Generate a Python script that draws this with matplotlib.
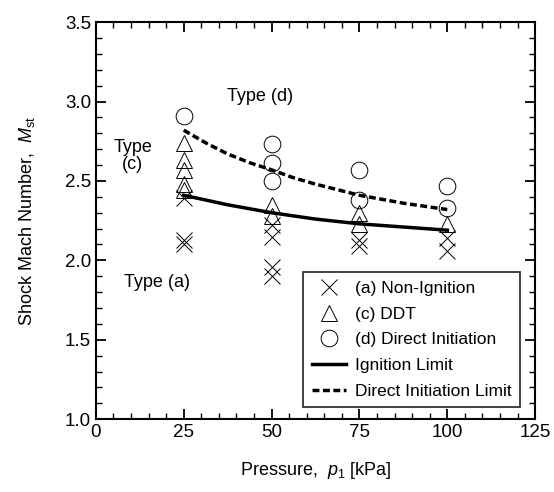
import matplotlib
matplotlib.use("Agg")
import matplotlib.pyplot as plt
from matplotlib.ticker import MultipleLocator
from matplotlib.lines import Line2D

plt.rcParams['font.family'] = ['Liberation Sans', 'DejaVu Sans']
plt.rcParams['mathtext.fontset'] = 'custom'
plt.rcParams['mathtext.it'] = 'Liberation Sans:italic'
plt.rcParams['mathtext.rm'] = 'Liberation Sans'

# Data
nonign_p = [25, 25, 25, 50, 50, 50, 50, 75, 75, 100, 100]
nonign_m = [2.10, 2.13, 2.39, 2.22, 2.15, 1.96, 1.90, 2.13, 2.09, 2.14, 2.06]
ddt_p = [25, 25, 25, 25, 25, 50, 50, 75, 75, 100]
ddt_m = [2.44, 2.48, 2.57, 2.63, 2.74, 2.35, 2.28, 2.30, 2.23, 2.23]
di_p = [25, 50, 50, 50, 75, 75, 100, 100]
di_m = [2.91, 2.73, 2.61, 2.50, 2.57, 2.38, 2.47, 2.33]

lim_p = [25, 31.25, 37.5, 43.75, 50, 56.25, 62.5, 68.75, 75, 81.25, 87.5, 93.75, 100]
ign_lim = [2.41, 2.38, 2.35, 2.325, 2.30, 2.28, 2.26, 2.245, 2.23, 2.22, 2.21, 2.20, 2.19]
di_lim = [2.82, 2.74, 2.67, 2.615, 2.57, 2.52, 2.48, 2.445, 2.41, 2.385, 2.36, 2.34, 2.32]

fig = plt.figure(figsize=(5.54, 4.92), dpi=100)
ax = fig.add_axes([0.173, 0.148, 0.793, 0.807])

ax.plot(nonign_p, nonign_m, linestyle='none', marker='x', markersize=11,
        markeredgewidth=0.7, color='black')
ax.plot(ddt_p, ddt_m, linestyle='none', marker='^', markersize=12,
        markeredgewidth=0.7, markerfacecolor='none', color='black')
ax.plot(di_p, di_m, linestyle='none', marker='o', markersize=12,
        markeredgewidth=0.7, markerfacecolor='none', color='black')
ax.plot(lim_p, ign_lim, color='black', linewidth=2.5)
ax.plot(lim_p, di_lim, color='black', linewidth=2.5, linestyle=(0, (2, 1)))

ax.set_xlim(0, 125)
ax.set_ylim(1.0, 3.5)
ax.xaxis.set_major_locator(MultipleLocator(25))
ax.xaxis.set_minor_locator(MultipleLocator(5))
ax.yaxis.set_major_locator(MultipleLocator(0.5))
ax.yaxis.set_minor_locator(MultipleLocator(0.1))
ax.yaxis.set_major_formatter(matplotlib.ticker.FormatStrFormatter('%.1f'))
ax.tick_params(which='both', direction='in', top=True, right=True, labelsize=13.5)
ax.tick_params(which='major', length=7, width=1.3)
ax.tick_params(which='minor', length=4, width=1.0)
for s in ax.spines.values():
    s.set_linewidth(1.5)

ax.set_xlabel(r'Pressure,  $p_1$ [kPa]', fontsize=13, labelpad=14)
ax.set_ylabel(r'Shock Mach Number,  $M_{\rm st}$', fontsize=13, labelpad=20)

ax.text(46.7, 3.03, 'Type (d)', fontsize=13, ha='center', va='center')
ax.text(10.5, 2.66, 'Type\n(c)', fontsize=13, ha='center', va='center', linespacing=1.0)
ax.text(17.5, 1.86, 'Type (a)', fontsize=13, ha='center', va='center')

handles = [
    Line2D([], [], linestyle='none', marker='x', markersize=11, markeredgewidth=0.7, color='black'),
    Line2D([], [], linestyle='none', marker='^', markersize=12, markeredgewidth=0.7, markerfacecolor='none', color='black'),
    Line2D([], [], linestyle='none', marker='o', markersize=12, markeredgewidth=0.7, markerfacecolor='none', color='black'),
    Line2D([], [], color='black', linewidth=2.5),
    Line2D([], [], color='black', linewidth=2.5, linestyle=(0, (2, 1))),
]
labels = ['(a) Non-Ignition', '(c) DDT', '(d) Direct Initiation', 'Ignition Limit', 'Direct Initiation Limit']
leg = ax.legend(handles, labels, loc='lower right', bbox_to_anchor=(0.966, 0.03),
                borderaxespad=0, fontsize=12.5, frameon=True,
                fancybox=False, edgecolor='black', handlelength=2.0, handletextpad=0.5,
                labelspacing=0.6, borderpad=0.5)
leg.get_frame().set_linewidth(1.3)

fig.savefig('out.png', dpi=100)
